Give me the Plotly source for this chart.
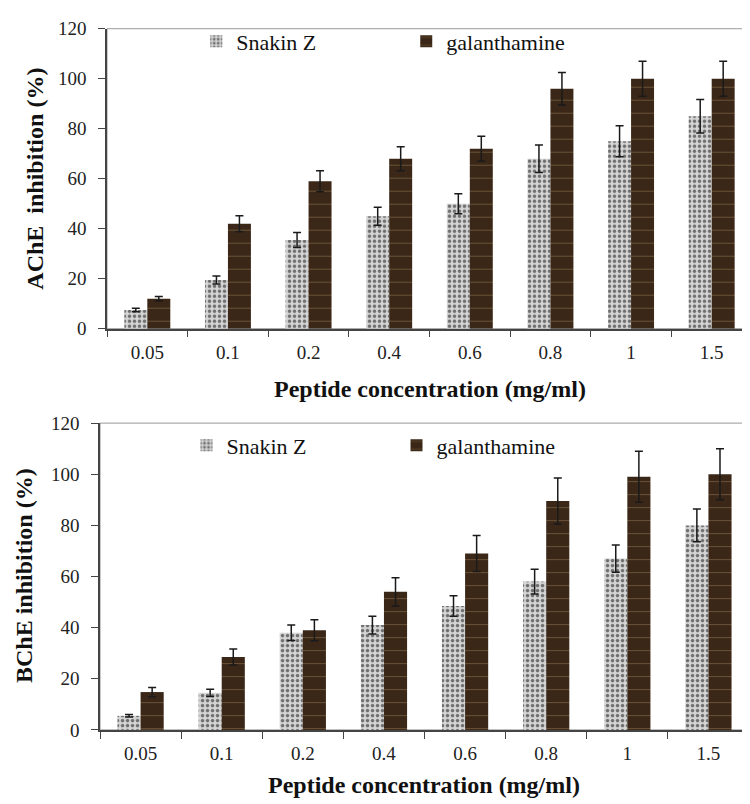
import plotly.graph_objects as go

categories = ["0.05", "0.1", "0.2", "0.4", "0.6", "0.8", "1", "1.5"]
y_ticks = [0, 20, 40, 60, 80, 100, 120]

ache_snakin = [7.5, 19.5, 35.5, 45, 50, 68, 75, 85]
ache_snakin_err = [0.7, 1.6, 3.0, 3.6, 4.0, 5.5, 6.2, 6.7]
ache_gal = [12, 42, 59, 68, 72, 96, 100, 100]
ache_gal_err = [0.9, 3.2, 4.2, 4.8, 5.0, 6.5, 7.0, 7.0]

bche_snakin = [5.5, 14.5, 38, 41, 48.5, 58, 67, 80]
bche_snakin_err = [0.5, 1.4, 3.0, 3.5, 4.0, 4.8, 5.3, 6.4]
bche_gal = [14.8, 28.5, 39, 54, 69, 89.5, 99, 100]
bche_gal_err = [1.8, 3.1, 4.1, 5.5, 7.0, 9.0, 10.0, 10.0]

FONT = "Liberation Serif"

snakin_marker = dict(
    color="#cfcfcf",
    line=dict(width=0),
    pattern=dict(shape=".", fgcolor="#6e6e6e", bgcolor="#d4d4d4",
                 size=5, solidity=0.38, fillmode="replace"),
)
gal_marker = dict(
    color="#3a2718",
    line=dict(width=0),
    pattern=dict(shape="-", fgcolor="#6a5236", bgcolor="#3a2718",
                 size=13, solidity=0.08, fillmode="replace"),
)
err_style = dict(type="data", color="#1a1a1a", thickness=1.5, width=4)

fig = go.Figure()

fig.add_trace(go.Bar(x=categories, y=ache_snakin, name="Snakin Z",
                     marker=snakin_marker,
                     error_y=dict(array=ache_snakin_err, **err_style),
                     xaxis="x", yaxis="y", legend="legend"))
fig.add_trace(go.Bar(x=categories, y=ache_gal, name="galanthamine",
                     marker=gal_marker,
                     error_y=dict(array=ache_gal_err, **err_style),
                     xaxis="x", yaxis="y", legend="legend"))
fig.add_trace(go.Bar(x=categories, y=bche_snakin, name="Snakin Z",
                     marker=snakin_marker,
                     error_y=dict(array=bche_snakin_err, **err_style),
                     xaxis="x2", yaxis="y2", legend="legend2"))
fig.add_trace(go.Bar(x=categories, y=bche_gal, name="galanthamine",
                     marker=gal_marker,
                     error_y=dict(array=bche_gal_err, **err_style),
                     xaxis="x2", yaxis="y2", legend="legend2"))

axis_common_x = dict(
    type="category", tickson="boundaries", ticks="outside", ticklen=7,
    tickcolor="#444", tickwidth=1.2, showline=True, linecolor="#444",
    linewidth=1.5, showgrid=False, zeroline=False,
    tickfont=dict(family=FONT, size=19, color="#222"),
    ticklabelstandoff=6, range=[-0.5, 7.5], fixedrange=True,
)
axis_common_y = dict(
    range=[0, 120], tickvals=y_ticks, ticks="outside", ticklen=7,
    tickcolor="#444", tickwidth=1.2, showline=True, linecolor="#444",
    linewidth=1.5, showgrid=False, zeroline=False,
    tickfont=dict(family=FONT, size=19, color="#222"),
    ticklabelstandoff=8,
)

legend_common = dict(
    orientation="h", font=dict(family=FONT, size=22, color="#111"),
    bgcolor="rgba(0,0,0,0)", borderwidth=0, entrywidth=165,
    entrywidthmode="pixels", xanchor="left", yanchor="middle",
    itemclick=False, itemdoubleclick=False,
)

fig.update_layout(
    width=750, height=804,
    margin=dict(l=0, r=0, t=0, b=0),
    paper_bgcolor="white", plot_bgcolor="white",
    barmode="group", bargap=0.43, bargroupgap=0,
    xaxis=dict(domain=[0.132, 0.992], anchor="y", **axis_common_x),
    yaxis=dict(domain=[0.6032, 0.9863], anchor="x", **axis_common_y),
    xaxis2=dict(domain=[0.1227, 0.988], anchor="y2", **axis_common_x),
    yaxis2=dict(domain=[0.0908, 0.4826], anchor="x2", **axis_common_y),
    legend=dict(x=0.251, y=0.970, **legend_common),
    legend2=dict(x=0.238, y=0.454, **legend_common),
    font=dict(family=FONT),
    shapes=[
        dict(type="rect", xref="x domain", yref="y domain", x0=0, x1=1, y0=0, y1=1,
             line=dict(color="#999", width=1), layer="below"),
        dict(type="rect", xref="x2 domain", yref="y2 domain", x0=0, x1=1, y0=0, y1=1,
             line=dict(color="#999", width=1), layer="below"),
    ],
    annotations=[
        dict(text="<b>Peptide concentration (mg/ml)</b>", xref="paper", yref="paper",
             x=422 / 750, y=1 - 381 / 804, showarrow=False,
             font=dict(family=FONT, size=24, color="#111"), xanchor="center", yanchor="middle"),
        dict(text="<b>Peptide concentration (mg/ml)</b>", xref="paper", yref="paper",
             x=416 / 750, y=1 - 788 / 804, showarrow=False,
             font=dict(family=FONT, size=24, color="#111"), xanchor="center", yanchor="middle"),
        dict(text="<b>AChE  inhibition (%)</b>", xref="paper", yref="paper",
             x=27 / 750, y=1 - 165 / 804, showarrow=False, textangle=-90,
             font=dict(family=FONT, size=24, color="#111"), xanchor="center", yanchor="middle"),
        dict(text="<b>BChE inhibition (%)</b>", xref="paper", yref="paper",
             x=16 / 750, y=1 - 573 / 804, showarrow=False, textangle=-90,
             font=dict(family=FONT, size=24, color="#111"), xanchor="center", yanchor="middle"),
    ],
)

fig.write_html("out.html")
